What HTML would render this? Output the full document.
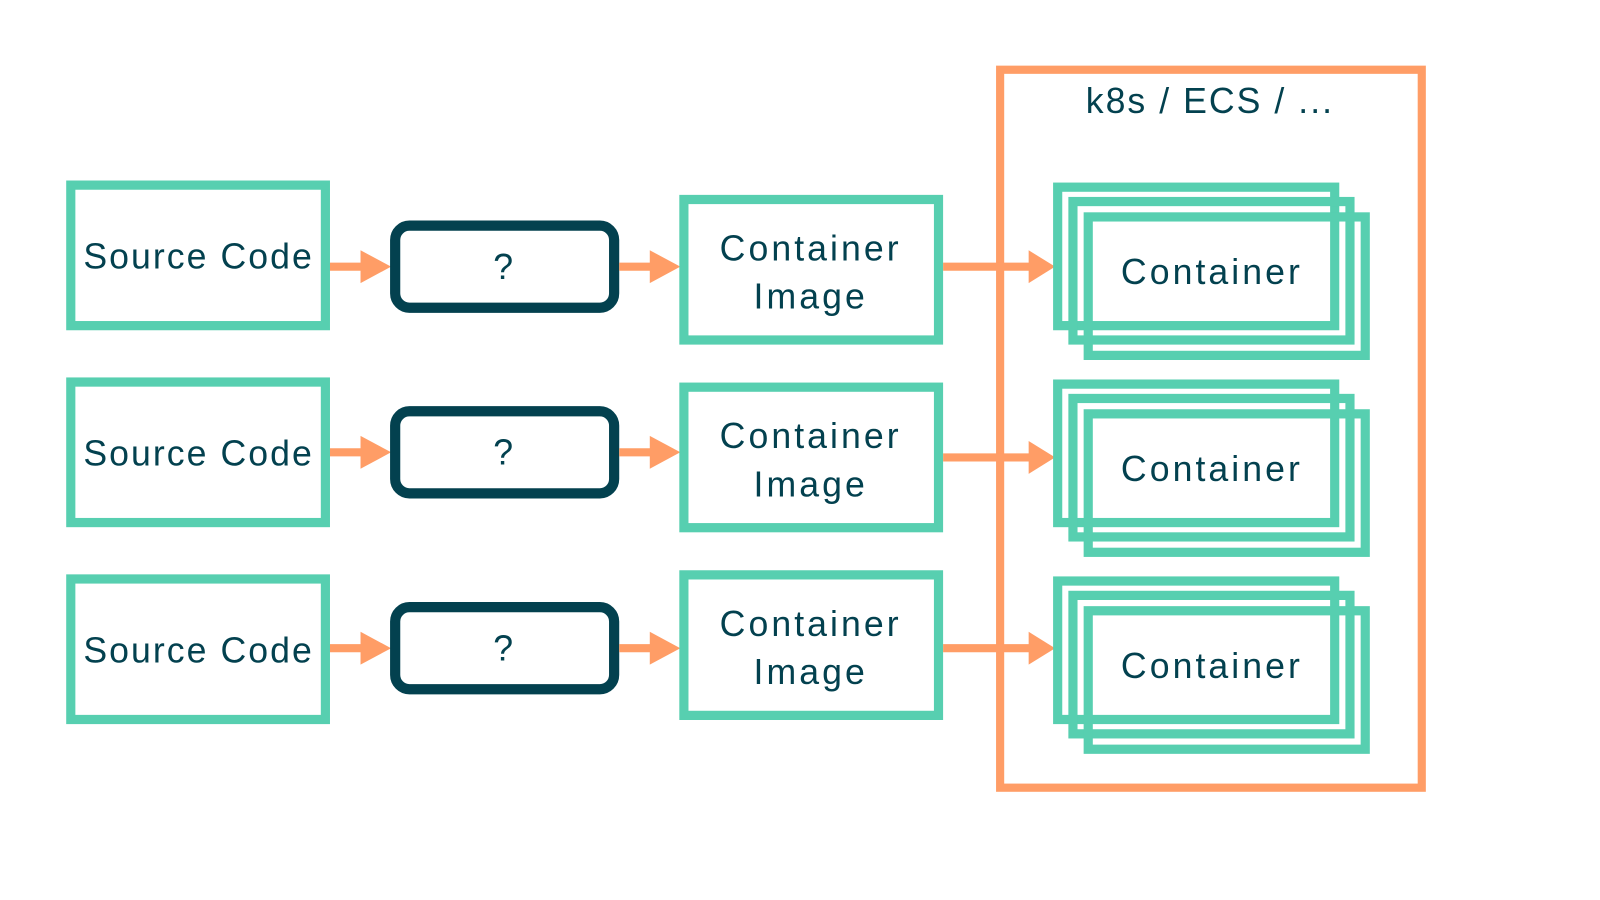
<!DOCTYPE html>
<html><head><meta charset="utf-8"><style>
html,body{margin:0;padding:0;background:#fff;}
svg{display:block;}
text{font-family:"Liberation Sans","DejaVu Sans",sans-serif;fill:#03414f;font-size:35px;text-anchor:middle;letter-spacing:2px;}
text.c{letter-spacing:3px;}
</style></head><body>
<svg width="1600" height="900" viewBox="0 0 1571 877.5" preserveAspectRatio="none" xmlns="http://www.w3.org/2000/svg">
<defs>
<g id="src">
  <rect x="69.5" y="180.5" width="250" height="137" fill="none" stroke="#57cfb0" stroke-width="9"/>
  <text x="195" y="262">Source Code</text>
</g>
<g id="row">
  <line x1="324" y1="260" x2="358" y2="260" stroke="#ff9d66" stroke-width="8"/>
  <polygon points="354,244 384,260 354,276" fill="#ff9d66"/>
  <rect x="388" y="220" width="215" height="80" rx="14" fill="none" stroke="#03414f" stroke-width="10"/>
  <text x="495" y="272">?</text>
  <line x1="608" y1="260" x2="642" y2="260" stroke="#ff9d66" stroke-width="8"/>
  <polygon points="638,244 668,260 638,276" fill="#ff9d66"/>
</g>
<g id="stack">
  <rect x="1038.5" y="182.5" width="272" height="135" fill="none" stroke="#57cfb0" stroke-width="9"/>
  <rect x="1053.5" y="196.5" width="272" height="135" fill="none" stroke="#57cfb0" stroke-width="9"/>
  <rect x="1068.5" y="211.5" width="272" height="135" fill="none" stroke="#57cfb0" stroke-width="9"/>
</g>
</defs>

<rect x="982" y="68" width="414" height="700" fill="none" stroke="#ff9d66" stroke-width="8"/>
<text x="1188" y="110">k8s / ECS / ...</text>

<use href="#src"/>
<use href="#src" transform="translate(0,192)"/>
<use href="#src" transform="translate(0,384)"/>
<use href="#row"/>
<use href="#row" transform="translate(0,181)"/>
<use href="#row" transform="translate(0,372)"/>

<!-- image boxes -->
<rect x="671.5" y="194.5" width="250" height="137" fill="none" stroke="#57cfb0" stroke-width="9"/>
<text class="c" x="796" y="254">Container</text><text class="c" x="796" y="301">Image</text>
<rect x="671.5" y="377.5" width="250" height="137" fill="none" stroke="#57cfb0" stroke-width="9"/>
<text class="c" x="796" y="437">Container</text><text class="c" x="796" y="484">Image</text>
<rect x="671.5" y="560.5" width="250" height="137" fill="none" stroke="#57cfb0" stroke-width="9"/>
<text class="c" x="796" y="620">Container</text><text class="c" x="796" y="667">Image</text>

<!-- arrows to containers -->
<line x1="926" y1="260" x2="1014" y2="260" stroke="#ff9d66" stroke-width="8"/>
<polygon points="1010,244 1036,260 1010,276" fill="#ff9d66"/>
<line x1="926" y1="446" x2="1014" y2="446" stroke="#ff9d66" stroke-width="8"/>
<polygon points="1010,430 1036,446 1010,462" fill="#ff9d66"/>
<line x1="926" y1="632" x2="1014" y2="632" stroke="#ff9d66" stroke-width="8"/>
<polygon points="1010,616 1036,632 1010,648" fill="#ff9d66"/>

<use href="#stack"/>
<use href="#stack" transform="translate(0,192)"/>
<use href="#stack" transform="translate(0,384)"/>
<text class="c" x="1190" y="277">Container</text>
<text class="c" x="1190" y="469">Container</text>
<text class="c" x="1190" y="661">Container</text>
</svg>
</body></html>
